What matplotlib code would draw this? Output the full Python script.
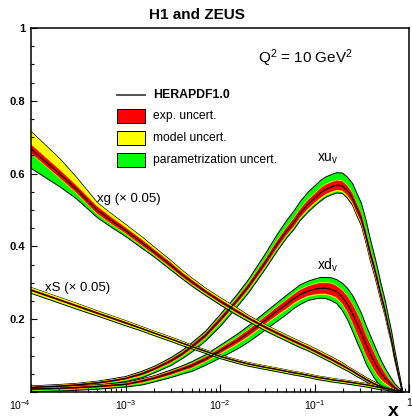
import numpy as np
import matplotlib
matplotlib.use("Agg")
import matplotlib.pyplot as plt
from matplotlib.patches import Rectangle
from matplotlib.lines import Line2D
from matplotlib.ticker import LogLocator, MultipleLocator, NullFormatter

plt.rcParams['font.family'] = ['Liberation Sans', 'DejaVu Sans']
plt.rcParams['mathtext.fontset'] = 'custom'
plt.rcParams['mathtext.rm'] = 'Liberation Sans'
plt.rcParams['mathtext.it'] = 'Liberation Sans:italic'
plt.rcParams['mathtext.bf'] = 'Liberation Sans:bold'

# x points shared by all curves
x = [1e-4, 2e-4, 3e-4, 5e-4, 7e-4, 1e-3, 1.5e-3, 2e-3, 3e-3, 4e-3, 5e-3, 7e-3,
     1e-2, 1.5e-2, 2e-2, 3e-2, 4e-2, 5e-2, 6e-2, 7e-2, 8.5e-2, 0.1, 0.115, 0.13,
     0.15, 0.17, 0.195, 0.22, 0.25, 0.28, 0.31, 0.35, 0.385, 0.42, 0.46, 0.5,
     0.55, 0.6, 0.65, 0.7, 0.77, 0.85]

# xu_v : central value and band widths
xuv = [0.012, 0.016, 0.019, 0.025, 0.030, 0.037, 0.050, 0.063, 0.085, 0.105, 0.124, 0.155,
       0.198, 0.250, 0.290, 0.355, 0.405, 0.440, 0.465, 0.490, 0.515, 0.532, 0.546, 0.556,
       0.563, 0.568, 0.567, 0.555, 0.535, 0.505, 0.480, 0.430, 0.385, 0.350, 0.310, 0.270,
       0.230, 0.185, 0.145, 0.100, 0.050, 0.0]
xuv_exp = [0.003, 0.003, 0.003, 0.003, 0.003, 0.003, 0.004, 0.004, 0.005, 0.005, 0.006, 0.006,
           0.007, 0.007, 0.008, 0.009, 0.010, 0.010, 0.011, 0.011, 0.012, 0.012, 0.013, 0.013,
           0.013, 0.013, 0.013, 0.013, 0.013, 0.013, 0.013, 0.013, 0.013, 0.012, 0.012, 0.011,
           0.010, 0.009, 0.008, 0.007, 0.005, 0.002]
xuv_mod_up = [0.001] * 12 + [0.002] * 27 + [0.001, 0.001, 0.0]
xuv_mod_dn = [0.001] * 5 + [0.002] * 7 + [0.003] * 8 + [0.004] * 14 + [0.003] * 4 + [0.002, 0.002, 0.001, 0.0]
xuv_par_up = [0.002, 0.002, 0.002, 0.002, 0.003, 0.003, 0.004, 0.004, 0.005, 0.006,
              0.006, 0.007, 0.008, 0.010, 0.012, 0.016, 0.018, 0.020, 0.021, 0.022,
              0.022, 0.022, 0.022, 0.021, 0.021, 0.021, 0.021, 0.022, 0.024, 0.025,
              0.025, 0.025, 0.022, 0.020, 0.018, 0.016, 0.014, 0.012, 0.010, 0.008,
              0.005, 0.001]
xuv_par_dn = ([0.002] * 6 + [0.003, 0.003, 0.004, 0.004, 0.005, 0.005, 0.006, 0.005, 0.004]
              + [0.003] * 12
              + [0.004, 0.004, 0.005, 0.005, 0.006, 0.006, 0.006, 0.006, 0.006, 0.005,
                 0.005, 0.004, 0.004, 0.003, 0.001])

# xd_v
xdv = [0.008, 0.010, 0.012, 0.015, 0.018, 0.021, 0.030, 0.038, 0.052, 0.063, 0.072, 0.090,
       0.113, 0.140, 0.162, 0.197, 0.222, 0.240, 0.256, 0.267, 0.277, 0.282, 0.285, 0.285,
       0.282, 0.276, 0.262, 0.244, 0.218, 0.190, 0.165, 0.130, 0.108, 0.088, 0.069, 0.054,
       0.040, 0.029, 0.020, 0.013, 0.006, 0.0]
xdv_exp = [0.003, 0.003, 0.003, 0.003, 0.003, 0.003, 0.004, 0.004, 0.005, 0.005,
           0.006, 0.006, 0.007, 0.008, 0.009, 0.010, 0.011, 0.012, 0.012, 0.013,
           0.013, 0.014, 0.015, 0.015, 0.016, 0.016, 0.018, 0.021, 0.025, 0.028,
           0.029, 0.028, 0.026, 0.024, 0.021, 0.018, 0.014, 0.010, 0.008, 0.005,
           0.003, 0.001]
xdv_mod_up = [0.001] * 12 + [0.002] * 26 + [0.001] * 3 + [0.0]
xdv_mod_dn = [0.001] * 6 + [0.002] * 6 + [0.003] * 26 + [0.002, 0.001, 0.001, 0.0]
xdv_par_up = [0.002] * 6 + [0.003, 0.003, 0.004, 0.005, 0.006, 0.007, 0.008, 0.010, 0.011, 0.012,
                            0.012, 0.013, 0.013, 0.014, 0.014, 0.014, 0.014, 0.014, 0.015, 0.016,
                            0.018, 0.020, 0.022, 0.022, 0.022, 0.022, 0.021, 0.020, 0.018, 0.015,
                            0.012, 0.010, 0.008, 0.005, 0.003, 0.001]
xdv_par_dn = [0.002] * 6 + [0.003, 0.003, 0.004, 0.005, 0.006, 0.007, 0.008, 0.010, 0.011, 0.012,
                            0.012, 0.011, 0.010, 0.009, 0.008, 0.008, 0.008, 0.009, 0.011, 0.013,
                            0.016, 0.019, 0.022, 0.022, 0.022, 0.022, 0.021, 0.020, 0.018, 0.015,
                            0.012, 0.010, 0.008, 0.005, 0.003, 0.001]

# xg (x 0.05)
xg = [0.668, 0.600, 0.558, 0.500, 0.472, 0.444, 0.410, 0.385, 0.349, 0.322, 0.303, 0.276,
      0.250, 0.222, 0.203, 0.178, 0.162, 0.150, 0.140, 0.132, 0.122, 0.113, 0.105, 0.098,
      0.090, 0.082, 0.074, 0.066, 0.058, 0.050, 0.043, 0.035, 0.029, 0.024, 0.019, 0.015,
      0.011, 0.008, 0.006, 0.004, 0.002, 0.0]
xg_exp = ([0.012, 0.011, 0.010, 0.010, 0.009, 0.008, 0.008, 0.007, 0.007, 0.006, 0.006,
           0.005, 0.005, 0.005] + [0.004] * 13 + [0.003] * 8 + [0.002] * 4 + [0.001, 0.001, 0.0005])
xg_mod_up = ([0.035, 0.030, 0.022, 0.010, 0.009, 0.008, 0.007, 0.006, 0.005, 0.005, 0.004,
              0.004, 0.004, 0.004] + [0.003] * 13 + [0.002] * 8 + [0.001] * 4 + [0.001, 0.0005, 0.0])
xg_mod_dn = [0.002] * 30 + [0.001] * 11 + [0.0]
xg_par_up = [0.001] * 39 + [0.0] * 3
xg_par_dn = ([0.039, 0.022, 0.014, 0.008, 0.007, 0.006, 0.005, 0.004, 0.004, 0.003, 0.003,
              0.003, 0.003, 0.003] + [0.003] * 6 + [0.002] * 15 + [0.001] * 6 + [0.0])

# xS (x 0.05)
xs = [0.280, 0.253, 0.237, 0.217, 0.204, 0.190, 0.174, 0.162, 0.146, 0.134, 0.125, 0.112,
      0.098, 0.085, 0.077, 0.068, 0.062, 0.057, 0.053, 0.050, 0.046, 0.042, 0.039, 0.037,
      0.034, 0.032, 0.030, 0.028, 0.026, 0.024, 0.022, 0.020, 0.018, 0.016, 0.014, 0.012,
      0.010, 0.008, 0.006, 0.004, 0.002, 0.0]
xs_exp = [0.003] * 6 + [0.002] * 30 + [0.001] * 5 + [0.0]
xs_mod_up = [0.004, 0.004, 0.004, 0.003, 0.003, 0.003, 0.003, 0.003, 0.003, 0.003] + [0.002] * 26 + [0.001] * 4 + [0.0] * 2
xs_mod_dn = [0.004, 0.004, 0.004, 0.003, 0.003, 0.003, 0.003, 0.003, 0.003, 0.003] + [0.002] * 26 + [0.001] * 4 + [0.0] * 2
xs_par_up = [0.001] * 39 + [0.0] * 3
xs_par_dn = [0.001] * 39 + [0.0] * 3

xtick_vals = [1e-4, 1e-3, 1e-2, 1e-1, 1]
xtick_labels = [r'$\mathregular{10^{-4}}$', r'$\mathregular{10^{-3}}$',
                r'$\mathregular{10^{-2}}$', r'$\mathregular{10^{-1}}$', '1']
ytick_vals = [0, 0.2, 0.4, 0.6, 0.8, 1.0]
ytick_labels = ['', '0.2', '0.4', '0.6', '0.8', '1']

GREEN, YELLOW, RED = '#00ff00', '#ffff00', '#ff0000'


def draw_pdf(ax, c, exp, mod_up, mod_dn, par_up, par_dn):
    c, exp = np.array(c), np.array(exp)
    y_lo = c - exp - np.array(mod_dn)
    y_hi = c + exp + np.array(mod_up)
    g_lo = np.clip(y_lo - np.array(par_dn), 0, None)
    g_hi = y_hi + np.array(par_up)
    ax.fill_between(x, g_lo, g_hi, facecolor=GREEN, edgecolor='black', lw=0.7)
    ax.fill_between(x, np.clip(y_lo, 0, None), y_hi, facecolor=YELLOW, lw=0)
    ax.fill_between(x, np.clip(c - exp, 0, None), c + exp, facecolor=RED, lw=0)
    ax.plot(x, c, color='black', lw=0.9)


fig = plt.figure(figsize=(4.12, 4.20), dpi=100)
ax = fig.add_axes([31 / 412, 28 / 420, 378 / 412, 364 / 420])

draw_pdf(ax, xuv, xuv_exp, xuv_mod_up, xuv_mod_dn, xuv_par_up, xuv_par_dn)
draw_pdf(ax, xdv, xdv_exp, xdv_mod_up, xdv_mod_dn, xdv_par_up, xdv_par_dn)
draw_pdf(ax, xg, xg_exp, xg_mod_up, xg_mod_dn, xg_par_up, xg_par_dn)
draw_pdf(ax, xs, xs_exp, xs_mod_up, xs_mod_dn, xs_par_up, xs_par_dn)

ax.set_xscale('log')
ax.set_xlim(1e-4, 1)
ax.set_ylim(0, 1)
ax.set_xticks(xtick_vals)
ax.set_xticklabels(xtick_labels, fontsize=7.5)
ax.xaxis.set_minor_locator(LogLocator(base=10, subs=np.arange(2, 10)))
ax.xaxis.set_minor_formatter(NullFormatter())
ax.set_yticks(ytick_vals)
ax.set_yticklabels(ytick_labels, fontsize=8, fontweight='bold')
ax.yaxis.set_minor_locator(MultipleLocator(0.05))
ax.tick_params(which='both', direction='in', top=False, right=False, width=0.8)
ax.tick_params(axis='x', which='major', length=5.5, pad=4.5)
ax.tick_params(axis='x', which='minor', length=2.8)
ax.tick_params(axis='y', which='major', length=4.5, pad=4)
ax.tick_params(axis='y', which='minor', length=2.3)
ax.get_xticklabels()[0].set_ha('right')
for sp in ax.spines.values():
    sp.set_linewidth(1.1)

# curve labels
ax.text(5.0e-4, 0.522, u'xg (\u00d7 0.05)', fontsize=9.5)
ax.text(1.41e-4, 0.277, u'xS (\u00d7 0.05)', fontsize=9.5)
ax.text(0.105, 0.632, r'xu$_\mathregular{v}$', fontsize=10)
ax.text(0.105, 0.335, r'xd$_\mathregular{v}$', fontsize=10)
ax.text(0.0252, 0.904, r'Q$^\mathregular{2}$ = 10 GeV$^\mathregular{2}$', fontsize=11)

# legend drawn by hand
tr = ax.transAxes
rows = [0.816, 0.757, 0.698, 0.637]
bx, bw, bh = (117 - 31) / 378, 28 / 378, 14 / 364
ax.add_line(Line2D([bx, bx + bw], [rows[0], rows[0]], transform=tr, color='#444444', lw=1.3))
for r, col in zip(rows[1:], [RED, YELLOW, GREEN]):
    ax.add_patch(Rectangle((bx, r - bh / 2), bw, bh, transform=tr, facecolor=col,
                           edgecolor='black', lw=0.7))
tx = (153 - 31) / 378
ax.text(tx, rows[0], 'HERAPDF1.0', transform=tr, fontsize=8.8, fontweight='bold', va='center')
ax.text(tx, rows[1], 'exp. uncert.', transform=tr, fontsize=8.7, va='center')
ax.text(tx, rows[2], 'model uncert.', transform=tr, fontsize=8.7, va='center')
ax.text(tx, rows[3], 'parametrization uncert.', transform=tr, fontsize=8.7, va='center')

fig.text(197 / 412, 1 - 15 / 420, 'H1 and ZEUS', fontsize=11, fontweight='bold',
         ha='center', va='center')
fig.text(393 / 412, 0.0, 'x', fontsize=14, fontweight='bold', ha='center', va='bottom')

fig.savefig('out.png', dpi=100)
